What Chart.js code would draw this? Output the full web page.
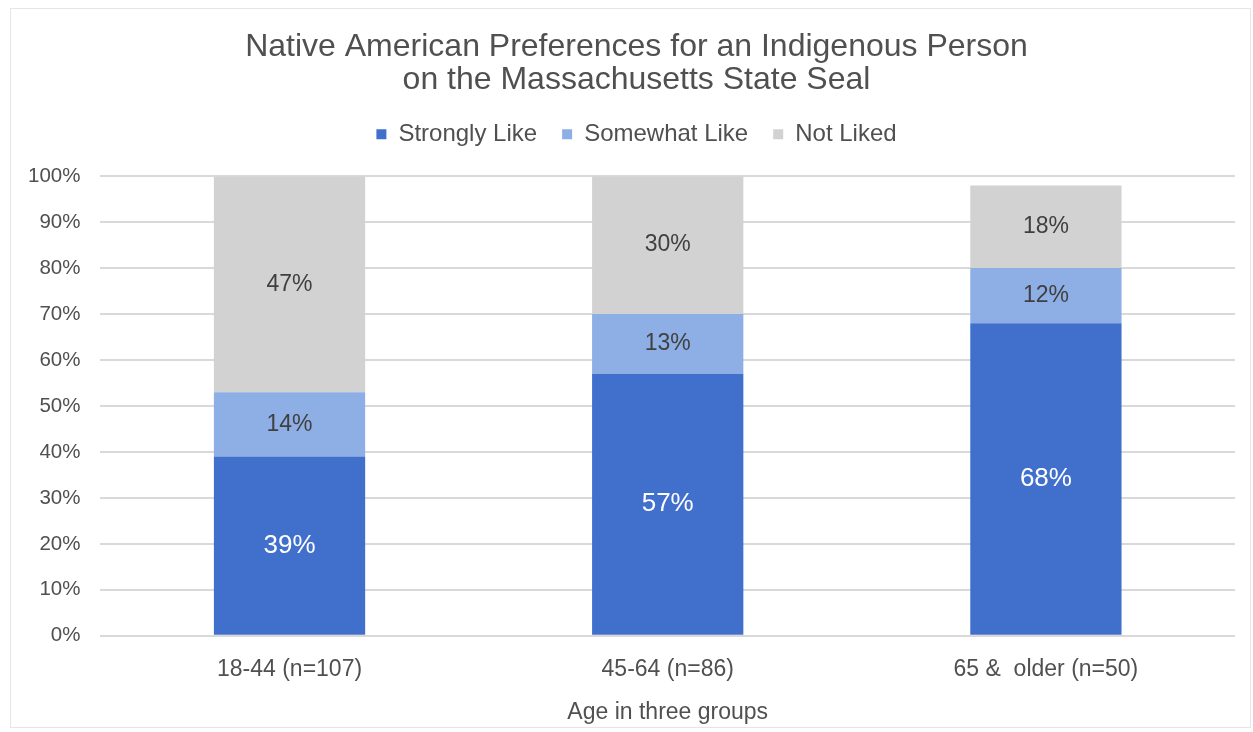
<!DOCTYPE html>
<html>
<head>
<meta charset="utf-8">
<script src="https://cdn.jsdelivr.net/npm/chart.js@4"></script>
<style>
  html, body { margin: 0; padding: 0; background: #fff; }
  #wrap { position: relative; width: 1253px; height: 732px; }
  #frame { position: absolute; left: 10px; top: 8px; right: 2px; bottom: 4px; border: 1px solid #e6e6e6; pointer-events: none; }
</style>
</head>
<body>
<div id="wrap">
  <canvas id="chart" width="1253" height="732"></canvas>
  <div id="frame"></div>
</div>
<script>
// data
const categories = ['18-44 (n=107)', '45-64 (n=86)', '65 &  older (n=50)'];
const stronglyLike = [39, 57, 68];
const somewhatLike = [14, 13, 12];
const notLiked = [47, 30, 18];
const yTicks = [0, 10, 20, 30, 40, 50, 60, 70, 80, 90, 100];

const FONT = "'Liberation Sans', Arial, sans-serif";

// draws "NN%" in the middle of each bar segment
const segmentLabels = {
  id: 'segmentLabels',
  afterDatasetsDraw(chart) {
    const ctx = chart.ctx;
    ctx.save();
    ctx.textAlign = 'center';
    ctx.textBaseline = 'middle';
    chart.data.datasets.forEach((ds, i) => {
      const meta = chart.getDatasetMeta(i);
      meta.data.forEach((bar, j) => {
        const v = ds.data[j];
        const y = (bar.y + bar.base) / 2;
        ctx.font = (i === 0 ? '26px ' : '23px ') + FONT;
        ctx.fillStyle = i === 0 ? '#ffffff' : '#404040';
        ctx.fillText(v + '%', bar.x, y);
      });
    });
    ctx.restore();
  }
};

// extra space between the legend and the plot
const legendGap = {
  id: 'legendGap',
  beforeInit(chart) {
    const fit = chart.legend.fit;
    chart.legend.fit = function () {
      fit.call(this);
      this.height += 20;
    };
  }
};

new Chart(document.getElementById('chart'), {
  type: 'bar',
  data: {
    labels: categories,
    datasets: [
      { label: 'Strongly Like', data: stronglyLike, backgroundColor: '#4070cc' },
      { label: 'Somewhat Like', data: somewhatLike, backgroundColor: '#8eaee6' },
      { label: 'Not Liked', data: notLiked, backgroundColor: '#d2d2d2' }
    ]
  },
  options: {
    responsive: false,
    animation: false,
    layout: { padding: { left: 20, right: 0, top: 30, bottom: 2 } },
    datasets: { bar: { categoryPercentage: 1, barPercentage: 0.4 } },
    scales: {
      x: {
        stacked: true,
        grid: { display: false },
        border: { display: false },
        ticks: { color: '#505050', font: { family: FONT, size: 23 }, padding: 12 },
        title: { display: true, text: 'Age in three groups', color: '#505050', font: { family: FONT, size: 23 }, padding: { top: 3, bottom: 4 } }
      },
      y: {
        stacked: true,
        min: 0,
        max: 100,
        afterBuildTicks: (axis) => { axis.ticks = yTicks.map(v => ({ value: v })); },
        afterFit: (axis) => { axis.width -= 12; },
        grid: { color: '#d9d9d9', lineWidth: 2, drawTicks: false },
        border: { display: false },
        ticks: { color: '#505050', font: { family: FONT, size: 20.5 }, padding: 20, callback: v => v + '%' }
      },
      // empty strip on the right so the plot ends where the reference does
      yRight: {
        position: 'right',
        grid: { display: false },
        border: { display: false },
        ticks: { display: false },
        afterFit: (axis) => { axis.width = 18; }
      }
    },
    plugins: {
      title: {
        display: true,
        text: ['Native American Preferences for an Indigenous Person', 'on the Massachusetts State Seal'],
        color: '#505050',
        font: { family: FONT, size: 32, weight: 'normal', lineHeight: 1.05 },
        padding: { top: 0, bottom: 0 }
      },
      legend: {
        labels: {
          color: '#505050',
          font: { family: FONT, size: 24 },
          boxWidth: 10,
          boxHeight: 10,
          padding: 25
        }
      },
      tooltip: { enabled: false }
    }
  },
  plugins: [segmentLabels, legendGap]
});
</script>
</body>
</html>
